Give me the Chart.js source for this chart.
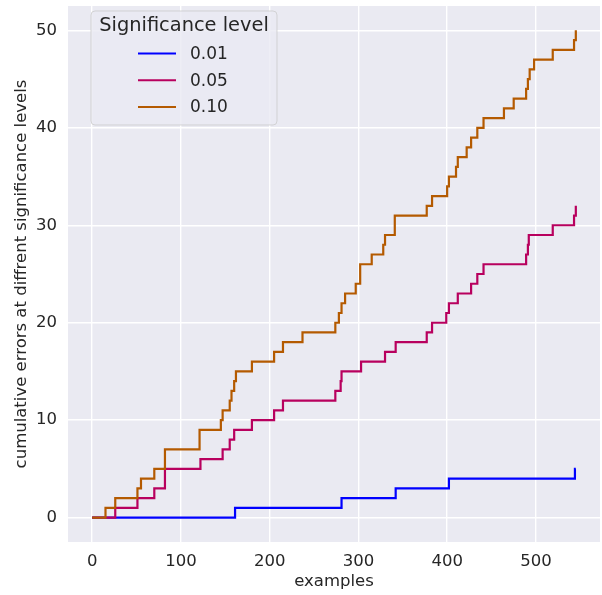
<!DOCTYPE html>
<html>
<head>
<meta charset="utf-8">
<script src="https://cdn.jsdelivr.net/npm/chart.js@4/dist/chart.umd.min.js"></script>
<style>
  html, body { margin: 0; padding: 0; background: #ffffff; }
  #wrap { width: 602px; height: 595px; }
</style>
</head>
<body>
<div id="wrap"><canvas id="errChart" width="602" height="595"></canvas></div>
<script>
// tick labels
const xTicks = [0, 100, 200, 300, 400, 500];
const yTicks = [0, 10, 20, 30, 40, 50];

// legend labels (significance levels)
const levels = ['0.01', '0.05', '0.10'];

// example index where the cumulative count changes, and the count from there on
const steps001 = [0, 161, 281, 342, 402, 544, 545];
const errs001  = [0, 1,   2,   3,   4,   5,   5];

const steps005 = [0, 26, 51, 70, 82, 122, 147, 155, 160, 180, 205, 215, 274, 280, 281, 303, 330, 342, 377, 383, 399, 402, 412, 427, 434, 441, 489, 491, 492, 519, 543, 545];
const errs005  = [0, 1,  2,  3,  5,  6,   7,   8,   9,   10,  11,  12,  13,  14,  15,  16,  17,  18,  19,  20,  21,  22,  23,  24,  25,  26,  27,  28,  29,  30,  31,  32];

const steps010 = [0, 15, 26, 51, 55, 70, 82, 121, 145, 147, 155, 157, 160, 162, 180, 205, 215, 237, 274, 278, 281, 285, 297, 302, 315, 328, 330, 341, 377, 383, 400, 402, 410, 412, 422, 427, 434, 441, 464, 475, 489, 491, 493, 498, 519, 543, 545];
const errs010  = [0, 1,  2,  3,  4,  5,  7,  9,   10,  11,  12,  13,  14,  15,  16,  17,  18,  19,  20,  21,  22,  23,  24,  26,  27,  28,  29,  31,  32,  33,  34,  35,  36,  37,  38,  39,  40,  41,  42,  43,  44,  45,  46,  47,  48,  49,  50];

const lineColors = ['#0000ff', '#b8005e', '#b45a00'];

function toPoints(xs, ys) {
    return xs.map(function(x, i) { return { x: x, y: ys[i] }; });
}

const FONT = "'DejaVu Sans', 'Liberation Sans', sans-serif";
const TEXT = '#262626';

// grey axes background, like seaborn darkgrid
const bgPlugin = {
    id: 'axesBg',
    beforeDraw(chart) {
        const a = chart.chartArea;
        const ctx = chart.ctx;
        ctx.save();
        ctx.fillStyle = '#eaeaf2';
        ctx.fillRect(a.left, a.top, a.right - a.left, a.bottom - a.top);
        ctx.restore();
    }
};

// legend box in the top-left corner of the axes
const legendPlugin = {
    id: 'boxLegend',
    afterDatasetsDraw(chart) {
        const ctx = chart.ctx;
        const a = chart.chartArea;
        const x0 = a.left + 23, y0 = a.top + 5, w = 186, h = 114;
        ctx.save();
        ctx.beginPath();
        ctx.roundRect(x0, y0, w, h, 4);
        ctx.fillStyle = 'rgba(234,234,242,0.8)';
        ctx.fill();
        ctx.strokeStyle = 'rgba(204,204,204,0.8)';
        ctx.lineWidth = 1;
        ctx.stroke();

        ctx.fillStyle = TEXT;
        ctx.textBaseline = 'middle';
        ctx.textAlign = 'center';
        ctx.font = '19.4px ' + FONT;
        ctx.fillText('Significance level', x0 + w / 2, y0 + 15);

        ctx.textAlign = 'left';
        ctx.font = '17px ' + FONT;
        chart.data.datasets.forEach(function(ds, i) {
            const yy = y0 + 42.5 + i * 26.7;
            ctx.beginPath();
            ctx.moveTo(x0 + 47, yy);
            ctx.lineTo(x0 + 85, yy);
            ctx.strokeStyle = ds.borderColor;
            ctx.lineWidth = 2;
            ctx.stroke();
            ctx.fillText(ds.label, x0 + 99, yy + 1);
        });
        ctx.restore();
    }
};

document.addEventListener('DOMContentLoaded', function() {
    const ctx = document.getElementById('errChart').getContext('2d');
    new Chart(ctx, {
        type: 'line',
        data: {
            datasets: [
                { label: levels[0], data: toPoints(steps001, errs001), borderColor: lineColors[0], order: 3 },
                { label: levels[1], data: toPoints(steps005, errs005), borderColor: lineColors[1], order: 2 },
                { label: levels[2], data: toPoints(steps010, errs010), borderColor: lineColors[2], order: 1 }
            ]
        },
        options: {
            responsive: false,
            animation: false,
            elements: {
                line: { borderWidth: 2.2, stepped: true, tension: 0 },
                point: { radius: 0 }
            },
            layout: { padding: { left: 0, right: 2, top: 6, bottom: 0 } },
            plugins: {
                legend: { display: false },
                tooltip: { enabled: false }
            },
            scales: {
                x: {
                    type: 'linear',
                    min: -27.25,
                    max: 572.25,
                    afterBuildTicks: function(scale) {
                        scale.ticks = xTicks.map(function(v) { return { value: v }; });
                    },
                    afterFit: function(scale) {
                        scale.height = 53;
                        scale.paddingLeft = 0;
                        scale.paddingRight = 0;
                    },
                    grid: { color: '#ffffff', lineWidth: 1.4, drawTicks: false },
                    border: { display: false },
                    ticks: {
                        padding: 10,
                        color: TEXT,
                        font: { family: FONT, size: 16.5 },
                        callback: function(v) { return String(v); }
                    },
                    title: {
                        display: true,
                        text: 'examples',
                        color: TEXT,
                        font: { family: FONT, size: 16.5 },
                        padding: { top: 0, bottom: 3 }
                    }
                },
                y: {
                    type: 'linear',
                    min: -2.5,
                    max: 52.5,
                    afterBuildTicks: function(scale) {
                        scale.ticks = yTicks.map(function(v) { return { value: v }; });
                    },
                    afterFit: function(scale) {
                        scale.width = 68;
                        scale.paddingTop = 0;
                        scale.paddingBottom = 0;
                    },
                    grid: { color: '#ffffff', lineWidth: 1.4, drawTicks: false },
                    border: { display: false },
                    ticks: {
                        padding: 11,
                        color: TEXT,
                        font: { family: FONT, size: 16.5 },
                        callback: function(v) { return String(v); }
                    },
                    title: {
                        display: true,
                        text: 'cumulative errors at diffrent significance levels',
                        color: TEXT,
                        font: { family: FONT, size: 16.5 },
                        padding: { top: 12, bottom: 0 }
                    }
                }
            }
        },
        plugins: [bgPlugin, legendPlugin]
    });
});
</script>
</body>
</html>
